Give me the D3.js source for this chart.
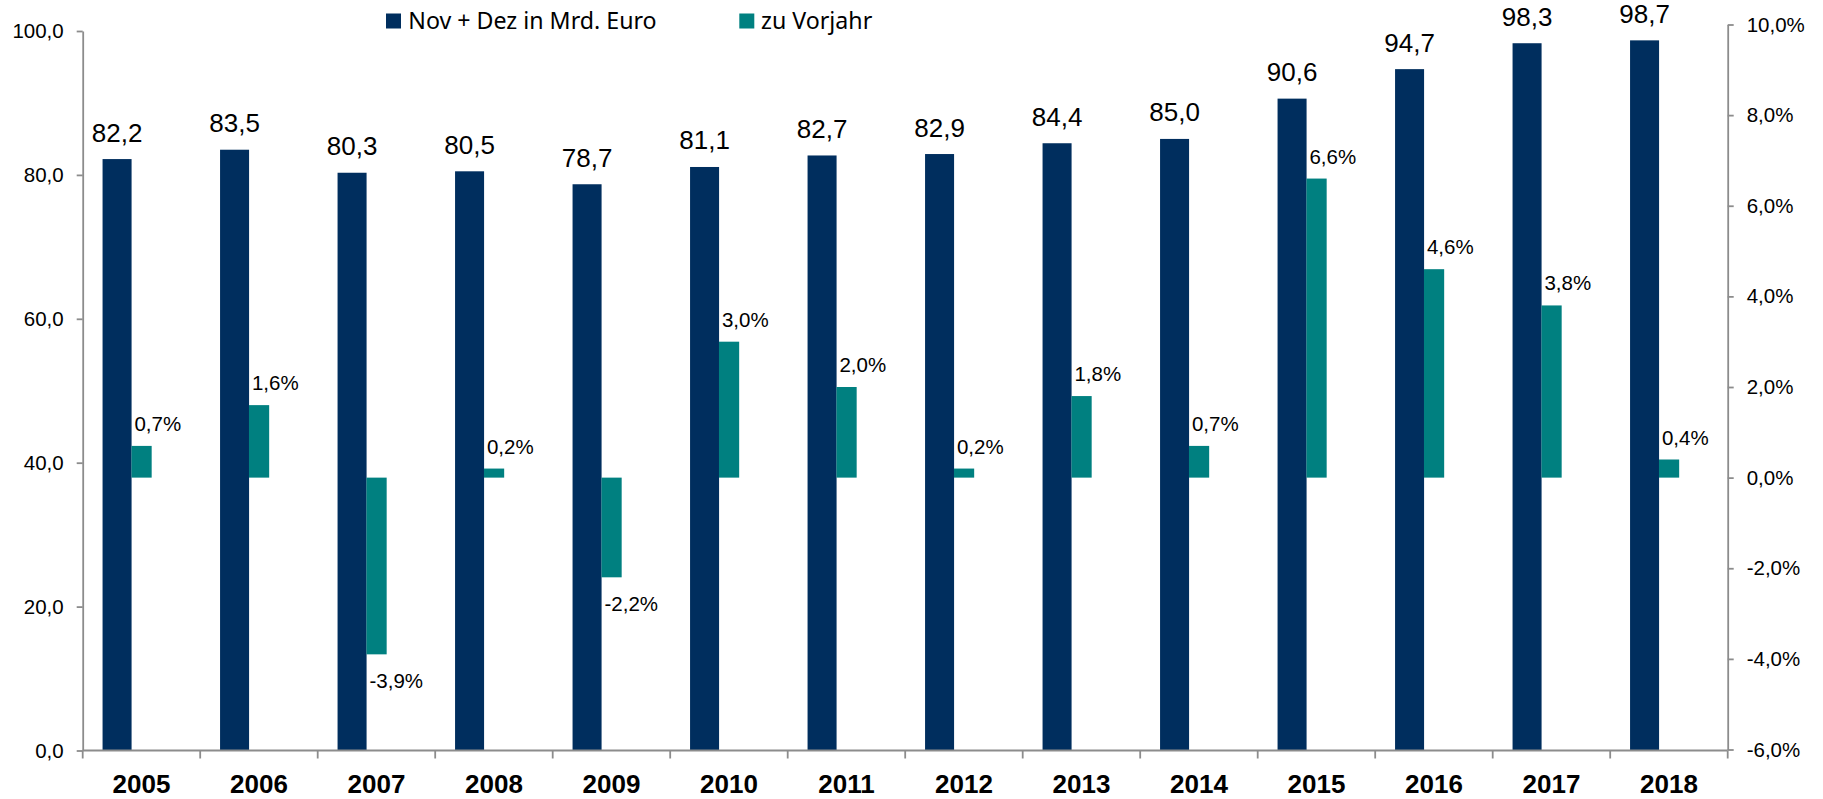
<!DOCTYPE html>
<html><head><meta charset="utf-8">
<script src="https://cdn.jsdelivr.net/npm/d3@7"></script>
<style>body{margin:0;background:#fff} svg{display:block}</style>
</head><body>
<svg id="c" width="1823" height="799"></svg>
<script>
const years = ["2005","2006","2007","2008","2009","2010","2011","2012","2013","2014","2015","2016","2017","2018"];
const sales = [82.2,83.5,80.3,80.5,78.7,81.1,82.7,82.9,84.4,85.0,90.6,94.7,98.3,98.7];
const change = [0.7,1.6,-3.9,0.2,-2.2,3.0,2.0,0.2,1.8,0.7,6.6,4.6,3.8,0.4];
const leftTicks = [0,20,40,60,80,100];
const rightTicks = [-6,-4,-2,0,2,4,6,8,10];
const seriesNames = ["Nov + Dez in Mrd. Euro","zu Vorjahr"];

const NAVY = "#002E5E", TEAL = "#008080", AX = "#8c8c8c";
const FONT = "'Liberation Sans', Arial, sans-serif";
const svg = d3.select("#c");

const x = d3.scaleBand().domain(years).range([82.7, 1727.7]).padding(0);
const yL = d3.scaleLinear().domain([0, 100]).range([750.5, 31]);
const yR = d3.scaleLinear().domain([-6, 10]).range([749.5, 24.5]);
const bw = x.bandwidth();
const fmt1 = d => d.toFixed(1).replace(".", ",");
const fmtP = d => d.toFixed(1).replace(".", ",") + "%";

// navy bars
const navyX = d => x(d) + 0.169 * bw, navyW = 0.247 * bw;
svg.append("g").selectAll("rect").data(years).join("rect")
  .attr("x", navyX).attr("width", navyW)
  .attr("y", (d, i) => yL(sales[i])).attr("height", (d, i) => yL(0) - yL(sales[i]))
  .attr("fill", NAVY);

// teal bars
const tealX = d => x(d) + 0.415 * bw, tealW = 0.172 * bw;
svg.append("g").selectAll("rect").data(years).join("rect")
  .attr("x", tealX).attr("width", tealW)
  .attr("y", (d, i) => yR(Math.max(0, change[i])))
  .attr("height", (d, i) => Math.abs(yR(change[i]) - yR(0)))
  .attr("fill", TEAL);

// navy labels
svg.append("g").selectAll("text").data(years).join("text")
  .attr("x", d => navyX(d) + navyW / 2)
  .attr("y", (d, i) => yL(sales[i]) - 17.5)
  .attr("text-anchor", "middle")
  .attr("font-family", FONT).attr("font-size", 26).attr("fill", "#000")
  .text((d, i) => fmt1(sales[i]));

// teal labels
svg.append("g").selectAll("text").data(years).join("text")
  .attr("x", d => tealX(d) + 3)
  .attr("y", (d, i) => change[i] >= 0 ? yR(change[i]) - 15 : yR(change[i]) + 34)
  .attr("font-family", FONT).attr("font-size", 20.5).attr("fill", "#000")
  .text((d, i) => fmtP(change[i]));

// left axis
const gL = svg.append("g").attr("transform", "translate(82.7,0)")
  .call(d3.axisLeft(yL).tickValues(leftTicks).tickSize(6).tickSizeOuter(0).tickPadding(13).tickFormat(fmt1));
// right axis
const gR = svg.append("g").attr("transform", "translate(1727.7,0)")
  .call(d3.axisRight(yR).tickValues(rightTicks).tickSize(6).tickSizeOuter(0).tickPadding(13).tickFormat(fmtP));
[gL, gR].forEach(g => {
  g.select(".domain").attr("stroke", AX).attr("stroke-width", 1.8);
  g.selectAll(".tick line").attr("stroke", AX).attr("stroke-width", 1.8);
  g.selectAll(".tick text").attr("font-family", FONT).attr("font-size", 20.5).attr("fill", "#000");
});

// bottom axis
const gB = svg.append("g");
gB.append("line").attr("x1", x.range()[0]).attr("x2", x.range()[1])
  .attr("y1", yL(0)).attr("y2", yL(0)).attr("stroke", AX).attr("stroke-width", 1.8);
const bounds = years.map(d => x(d)).concat([x.range()[1]]);
gB.selectAll("line.tk").data(bounds).join("line").attr("class", "tk")
  .attr("x1", d => d).attr("x2", d => d).attr("y1", yL(0)).attr("y2", yL(0) + 8)
  .attr("stroke", AX).attr("stroke-width", 1.8);
gB.selectAll("text").data(years).join("text")
  .attr("x", d => x(d) + bw / 2).attr("y", 793)
  .attr("text-anchor", "middle").attr("font-family", FONT).attr("font-weight", "bold")
  .attr("font-size", 26).attr("fill", "#000").text(d => d);

// legend
const legend = [
  { name: seriesNames[0], color: NAVY, sx: 386, tx: 408.3 },
  { name: seriesNames[1], color: TEAL, sx: 739.3, tx: 761 }
];
const gLeg = svg.append("g");
legend.forEach(l => {
  gLeg.append("rect").attr("x", l.sx).attr("y", 13.5).attr("width", 15).attr("height", 15).attr("fill", l.color);
  gLeg.append("text").attr("x", l.tx).attr("y", 28.5)
    .attr("font-family", "'Noto Sans', 'Open Sans', sans-serif").attr("font-size", 23.2).attr("fill", "#000")
    .text(l.name);
});
</script>
</body></html>
